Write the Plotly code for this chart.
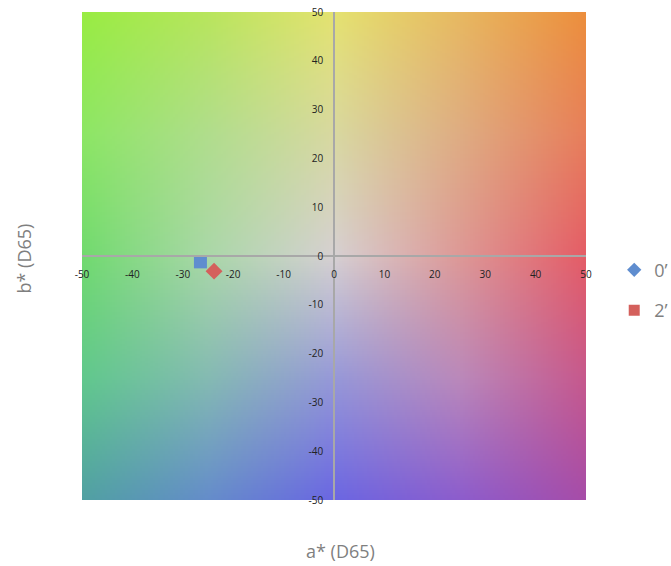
import numpy as np
import plotly.graph_objects as go

# Measured CIELAB coordinates for each sample
series_names = ["0\u2019", "2\u2019"]
a_values = [-26.5, -23.8]
b_values = [-1.2, -3.1]
series_colors = ["#5F8DCF", "#D4605C"]
plot_symbols = ["square", "diamond"]
legend_symbols = ["diamond", "square"]

axis_ticks = [-50, -40, -30, -20, -10, 0, 10, 20, 30, 40, 50]

# Background colour field of the a*/b* plane: RGB at a 5x5 lattice,
# rows run from b* = +50 (top) to b* = -50 (bottom), columns from a* = -50 to +50
lattice_a = [-50, -25, 0, 25, 50]
lattice_b = [50, 25, 0, -25, -50]
lattice_rgb = [
    [(152, 236, 66), (184, 229, 92), (228, 226, 112), (231, 184, 96), (236, 142, 60)],
    [(140, 230, 100), (176, 221, 140), (216, 216, 160), (222, 172, 130), (231, 126, 90)],
    [(112, 218, 110), (170, 215, 168), (214, 208, 210), (221, 152, 150), (228, 92, 102)],
    [(96, 200, 140), (132, 186, 178), (150, 152, 216), (186, 136, 186), (198, 88, 140)],
    [(80, 160, 162), (100, 140, 202), (106, 102, 226), (140, 92, 204), (166, 76, 168)],
]


def background_field(n):
    """Bilinearly interpolate the colour lattice onto an n x n grid (row 0 = b* -50)."""
    rgb = np.array(lattice_rgb, dtype=float)[::-1]  # bottom row first
    la = np.array(lattice_a, dtype=float)
    lb = np.array(lattice_b, dtype=float)[::-1]
    step = 100.0 / n
    centres = -50 + step / 2 + step * np.arange(n)
    ia = np.interp(centres, la, np.arange(len(la)))
    ib = np.interp(centres, lb, np.arange(len(lb)))
    i0a = np.clip(np.floor(ia).astype(int), 0, len(la) - 2)
    i0b = np.clip(np.floor(ib).astype(int), 0, len(lb) - 2)
    fa = (ia - i0a)[None, :, None]
    fb = (ib - i0b)[:, None, None]
    c00 = rgb[i0b][:, i0a]
    c01 = rgb[i0b][:, i0a + 1]
    c10 = rgb[i0b + 1][:, i0a]
    c11 = rgb[i0b + 1][:, i0a + 1]
    top = c00 * (1 - fa) + c01 * fa
    bot = c10 * (1 - fa) + c11 * fa
    return np.round(top * (1 - fb) + bot * fb).astype(np.uint8), step, centres[0]


N = 200
field, step, first = background_field(N)

fig = go.Figure()
fig.add_trace(go.Image(z=field, x0=first, dx=step, y0=first, dy=step,
                       hoverinfo="skip", zsmooth="fast"))

for name, a, b, col, sym in zip(series_names, a_values, b_values, series_colors, plot_symbols):
    fig.add_trace(go.Scatter(x=[a], y=[b], mode="markers", name=name, showlegend=False,
                             marker=dict(symbol=sym, size=13, color=col)))

for name, col, sym in zip(series_names, series_colors, legend_symbols):
    fig.add_trace(go.Scatter(x=[None], y=[None], mode="markers", name=name,
                             legendgroup=name,
                             marker=dict(symbol=sym, size=11, color=col)))

axis_common = dict(
    range=[-50, 50], tickvals=axis_ticks, ticktext=[str(t) for t in axis_ticks],
    showgrid=False, zeroline=False, showline=True, linecolor="#A8A8A8", linewidth=1.5,
    anchor="free", position=0.5, ticks="",
    tickfont=dict(family="Open Sans", size=10, color="#222222"),
)

fig.update_layout(
    width=671, height=566,
    margin=dict(l=82, r=85, t=12, b=66, autoexpand=False),
    paper_bgcolor="white", plot_bgcolor="white",
    xaxis=dict(**axis_common, ticklabelstandoff=9),
    yaxis=dict(**axis_common, ticklabelstandoff=8, scaleanchor=False, autorange=False),
    showlegend=True,
    legend=dict(x=1.056, y=0.43, xanchor="left", yanchor="middle",
                font=dict(family="Open Sans", size=18, color="#7F7F7F"),
                tracegroupgap=14, bgcolor="rgba(0,0,0,0)"),
    annotations=[
        dict(text="a* (D65)", xref="paper", yref="paper", x=0.512, y=-0.105,
             xanchor="center", yanchor="middle", showarrow=False,
             font=dict(family="Open Sans", size=18, color="#7F7F7F")),
        dict(text="b* (D65)", xref="paper", yref="paper", x=-0.115, y=0.495,
             xanchor="center", yanchor="middle", showarrow=False, textangle=-90,
             font=dict(family="Open Sans", size=18, color="#7F7F7F")),
    ],
)

fig.write_html("out.html")
